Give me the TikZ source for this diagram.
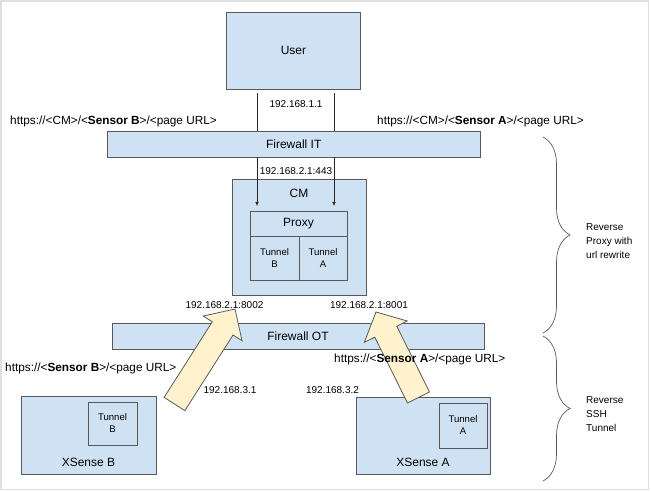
\documentclass[tikz,border=0pt]{standalone}
\usepackage{fontspec}
\setmainfont{Liberation Sans}
\usepackage{tikz}
\usetikzlibrary{shapes,arrows,arrows.meta,positioning,calc,decorations.pathreplacing}
\definecolor{boxblue}{HTML}{CFE2F3}
\definecolor{boxline}{HTML}{595959}
\definecolor{arrowyellow}{HTML}{FFF2CC}
\definecolor{framegray}{HTML}{E0E0E0}
\tikzset{
    every node/.style={font=\fontsize{12}{14}\selectfont}
}

\begin{document}
\begin{tikzpicture}[x=1pt,y=-1pt,>={Latex[length=4pt,width=3.5pt]}]
    % Define block styles
    \tikzstyle{block} = [rectangle, draw=boxline, fill=boxblue, line width=0.8pt,
        inner sep=0pt, outer sep=0pt]
    \tikzstyle{wall} = [block, minimum height=26pt]
    \tikzstyle{tunnel} = [block, align=center, font=\fontsize{9.6}{12}\selectfont]
    \tikzstyle{addr} = [font=\fontsize{10}{12}\selectfont, inner sep=0pt]
    \tikzstyle{url} = [font=\fontsize{11.8}{14}\selectfont, inner sep=0pt, anchor=base west]
    \tikzstyle{note} = [font=\fontsize{10}{14}\selectfont, inner sep=0pt, align=left, anchor=west]
    \tikzstyle{bigarrow} = [draw=boxline, fill=arrowyellow, line width=0.8pt, line join=miter]
    \tikzstyle{wire} = [draw=black!85, line width=0.6pt]
    \tikzstyle{curly} = [draw=boxline, line width=0.7pt, decorate, decoration={brace, amplitude=27pt}]

    % Frame
    \useasboundingbox (0,0) rectangle (651,492);
    \draw [framegray, line width=1.5pt] (1,1) rectangle (648.5,489.5);

    % Place nodes
    \node [block, minimum width=134pt, minimum height=77pt] (user) at (293.5,50.5) {User};
    \node [wall, minimum width=372.5pt] (fwit) at (293.75,144) {Firewall IT};
    \node [block, minimum width=134pt, minimum height=116pt,
           label={[anchor=center, yshift=-14pt]north:CM}] (cm) at (299,237) {};
    \node [block, minimum width=97pt, minimum height=25pt] (proxy) at (298.5,223.5) {Proxy};
    \node [tunnel, minimum width=49pt, minimum height=44pt,
           below right=0pt and 0pt of proxy.south west] (tunb) {Tunnel\\B};
    \node [tunnel, minimum width=48pt, minimum height=44pt, right=0pt of tunb] (tuna) {Tunnel\\A};
    \node [wall, minimum width=372pt] (fwot) at (298,336) {Firewall OT};
    \node [block, minimum width=135pt, minimum height=78pt,
           label={[anchor=center, yshift=12pt]south:XSense B}] (xsb) at (88.5,435) {};
    \node [tunnel, minimum width=49pt, minimum height=43pt] (xtunb) at (112.5,423.5) {Tunnel\\B};
    \node [block, minimum width=134pt, minimum height=77pt,
           label={[anchor=center, yshift=12pt]south:XSense A}] (xsa) at (423,435.5) {};
    \node [tunnel, minimum width=48pt, minimum height=45pt] (xtuna) at (463,425.5) {Tunnel\\A};

    % Connect nodes
    \coordinate (wb) at ($(user.south)+(-36.5,4)$);
    \coordinate (wa) at ($(user.south)+(40.5,4)$);
    \draw [wire] (wb) -- (wb |- fwit.north);
    \draw [wire] (wa) -- (wa |- fwit.north);
    \draw [wire,->] (wb |- fwit.south) -- ($(wb |- proxy.north)+(0,-5)$);
    \draw [wire,->] (wa |- fwit.south) -- ($(wa |- proxy.north)+(0,-5)$);

    % Tunnel arrows
    \coordinate (tailb) at (174.5,404);
    \coordinate (tipb) at (235,309);
    \coordinate (baseb) at ($(tipb)!23pt!(tailb)$);
    \draw [bigarrow] ($(tailb)!12.3pt!90:(tipb)$) -- ($(baseb)!12.3pt!90:(tipb)$)
        -- ($(baseb)!23pt!90:(tipb)$) -- (tipb) -- ($(baseb)!23pt!-90:(tipb)$)
        -- ($(baseb)!12.3pt!-90:(tipb)$) -- ($(tailb)!12.3pt!-90:(tipb)$) -- cycle;
    \coordinate (taila) at (418.5,397.5);
    \coordinate (tipa) at (376,312);
    \coordinate (basea) at ($(tipa)!22pt!(taila)$);
    \draw [bigarrow] ($(taila)!12.3pt!90:(tipa)$) -- ($(basea)!12.3pt!90:(tipa)$)
        -- ($(basea)!24pt!90:(tipa)$) -- (tipa) -- ($(basea)!24pt!-90:(tipa)$)
        -- ($(basea)!12.3pt!-90:(tipa)$) -- ($(taila)!12.3pt!-90:(tipa)$) -- cycle;

    % Labels
    \node [addr] (ipuser) at (296,104) {192.168.1.1};
    \node [addr] (ipcm) at (296,171) {192.168.2.1:443};
    \node [addr] (ipb) at (224.5,305) {192.168.2.1:8002};
    \node [addr] (ipa) at (369,305) {192.168.2.1:8001};
    \node [addr] (ipxb) at (230,390.5) {192.168.3.1};
    \node [addr] (ipxa) at (332.5,390) {192.168.3.2};
    \node [url] (urlb) at (10,125) {https://<CM>/<\textbf{Sensor B}>/<page URL>};
    \node [url] (urla) at (377,125) {https://<CM>/<\textbf{Sensor A}>/<page URL>};
    \node [url] (urlxb) at (5,371) {https://<\textbf{Sensor B}>/<page URL>};
    \node [url] (urlxa) at (334,362) {https://<\textbf{Sensor A}>/<page URL>};

    % Braces
    \draw [curly] (543,137) -- (543,333);
    \draw [curly] (543,336) -- (543,481);
    \node [note] (notep) at (586,241) {Reverse\\Proxy with\\url rewrite};
    \node [note] (notes) at (586,414) {Reverse\\SSH\\Tunnel};
\end{tikzpicture}
\end{document}
